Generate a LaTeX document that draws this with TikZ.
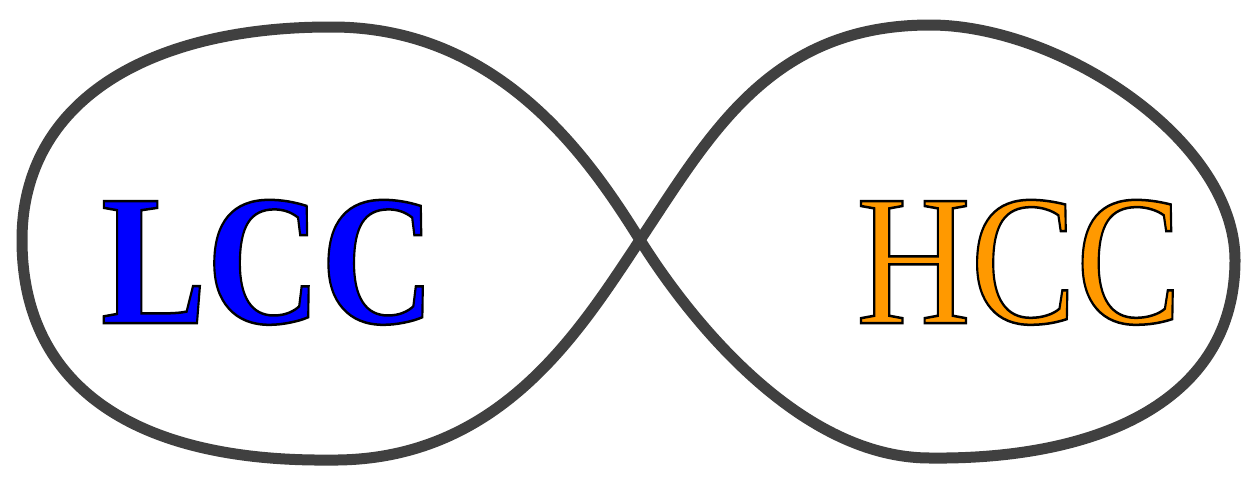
\documentclass[tikz,border=0pt]{standalone}
\usepackage{fontspec}
\usepackage{graphicx}
\setmainfont{Liberation Serif}
\definecolor{hccorange}{RGB}{255,153,0}
\definecolor{loopgray}{RGB}{64,64,64}
\newcommand{\strokedword}[2]{{\color{#1}\special{pdf:literal direct 2 Tr 2.5 w 0 G}#2\special{pdf:literal direct 0 Tr}}}
\tikzset{
  loopline/.style={draw=loopgray, line width=11pt, line join=round},
  wordlabel/.style={inner sep=0pt, anchor=base}
}
\begin{document}
\begin{tikzpicture}[x=1pt,y=-1pt]
\fill[white] (0,0) rectangle (1247,490);
\useasboundingbox (0,0) rectangle (1247,490);
\coordinate (C) at (640,240);
\coordinate (TL) at (330,27);
\coordinate (L) at (22,240);
\coordinate (BL) at (330,460);
\coordinate (TR) at (930,25);
\coordinate (R) at (1235,260);
\coordinate (BR) at (930,458);
\draw[loopline] (C) .. controls (590,160) and (500,26) .. (TL)
  .. controls (150,27) and (22,100) .. (L)
  .. controls (22,390) and (140,462) .. (BL)
  .. controls (500,462) and (580,330) .. (C)
  .. controls (710,135) and (770,25) .. (TR)
  .. controls (1060,25) and (1235,140) .. (R)
  .. controls (1235,400) and (1100,460) .. (BR)
  .. controls (800,458) and (690,320) .. (C) -- cycle;
\node[wordlabel] (lcc) at (268,323) {\scalebox{0.85}[1]{\fontsize{186}{186}\selectfont\bfseries\strokedword{blue}{LCC}}};
\node[wordlabel] (hcc) at (1019,323) {\scalebox{0.85}[1]{\fontsize{186}{186}\selectfont\strokedword{hccorange}{HCC}}};
\end{tikzpicture}
\end{document}
